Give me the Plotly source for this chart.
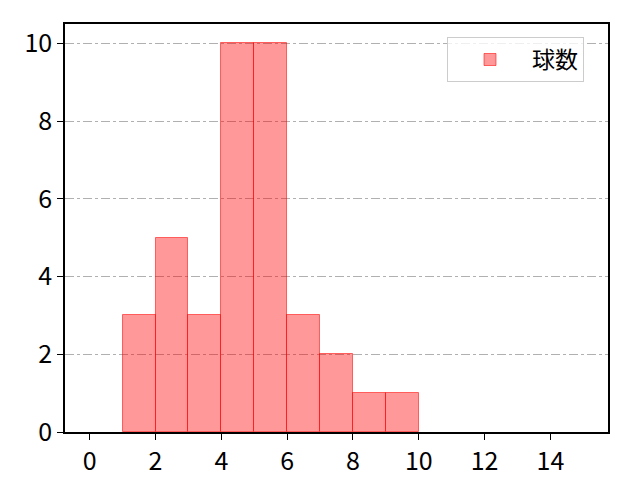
import plotly.graph_objects as go

bin_left = [1, 2, 3, 4, 5, 6, 7, 8, 9]
counts = [3, 5, 3, 10, 10, 3, 2, 1, 1]
series_name = "球数"
x_ticks = [0, 2, 4, 6, 8, 10, 12, 14]
y_ticks = [0, 2, 4, 6, 8, 10]

fig = go.Figure()
fig.add_trace(go.Bar(
    x=[b + 0.5 for b in bin_left],
    y=counts,
    width=1,
    name=series_name,
    marker=dict(color="rgba(255,0,0,0.4)", line=dict(color="rgba(255,0,0,0.55)", width=1)),
    showlegend=True,
))

font = "Noto Sans CJK JP, DejaVu Sans, sans-serif"
fig.update_layout(
    width=640, height=480,
    margin=dict(l=57, r=40, t=16, b=56),
    plot_bgcolor="white", paper_bgcolor="white",
    font=dict(family=font, size=25, color="black"),
    bargap=0,
    showlegend=True,
    legend=dict(x=0.7035, y=0.968, xanchor="left", yanchor="top",
                bordercolor="#cccccc", borderwidth=1, bgcolor="rgba(255,255,255,0.8)",
                font=dict(size=23), itemwidth=74),
    xaxis=dict(range=[-0.75, 15.75], tickvals=x_ticks, ticks="outside", ticklen=6,
               tickwidth=1.3, tickcolor="black", showline=True, linecolor="black",
               linewidth=1.5, mirror=True, showgrid=False, zeroline=False),
    yaxis=dict(range=[0, 10.5], tickvals=y_ticks, ticks="outside", ticklen=6,
               tickwidth=1.3, tickcolor="black", showline=True, linecolor="black",
               linewidth=1.5, mirror=True, showgrid=True, gridcolor="#b0b0b0",
               griddash="dashdot", gridwidth=1, zeroline=False),
)
fig.write_html("out.html")
